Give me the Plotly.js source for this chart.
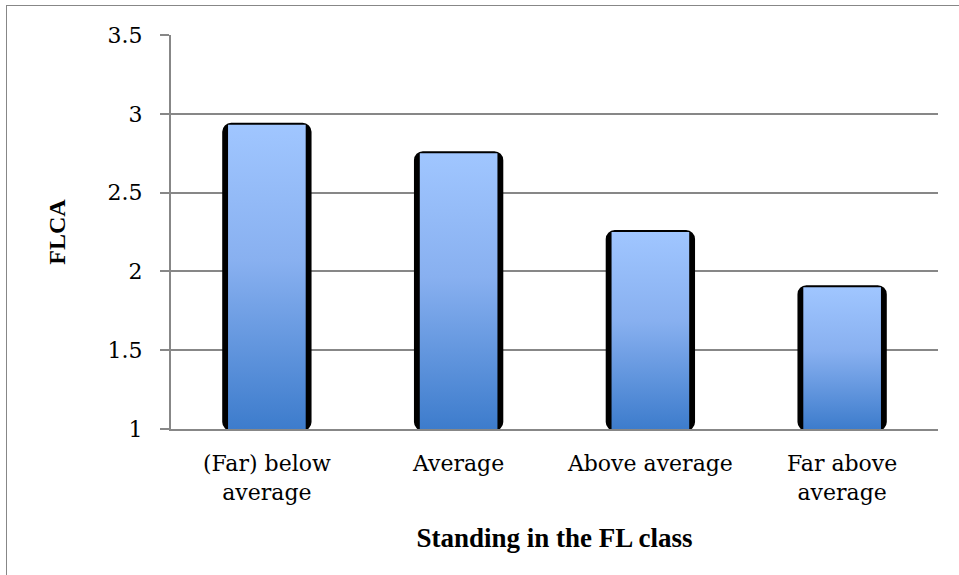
<!DOCTYPE html>
<html>
<head>
<meta charset="utf-8">
<script src="https://cdn.plot.ly/plotly-3.0.1.min.js"></script>
<style>
  html, body { margin: 0; padding: 0; background: #fff; }
  #wrap { position: relative; width: 959px; height: 575px; overflow: hidden; }
  #frame { position: absolute; left: 6px; top: 5px; width: 2000px; height: 2000px;
           border-left: 1.5px solid #878787; border-top: 1.5px solid #878787; }
  #chart { position: absolute; left: 0; top: 0; width: 959px; height: 575px; }
</style>
</head>
<body>
<div id="wrap">
  <div id="frame"></div>
  <div id="chart"></div>
</div>
<script>
// Data
var categories = ["(Far) below<br>average", "Average", "Above average", "Far above<br>average"];
var flcaValues = [2.93, 2.75, 2.25, 1.90];
var yTickVals = [1, 1.5, 2, 2.5, 3, 3.5];
var yTickText = ["1", "1.5", "2", "2.5", "3", "3.5"];
var xTitle = "Standing in the FL class";
var yTitle = "FLCA";

var tickFontFamily = "DejaVu Serif, serif";
var titleFontFamily = "Liberation Serif, Times New Roman, serif";

var shadowTrace = {
  type: "bar",
  x: categories,
  y: flcaValues.map(function (v) { return v - 1; }),
  base: 1,
  width: 0.445,
  marker: { color: "#000000", line: { color: "#000000", width: 4 }, cornerradius: 7 },
  hoverinfo: "skip",
  showlegend: false
};

var barTrace = {
  type: "bar",
  x: categories,
  y: flcaValues.map(function (v) { return v - 1; }),
  base: 1,
  width: 0.405,
  marker: { color: "#6A9EE8", line: { width: 0 } },
  hoverinfo: "skip",
  showlegend: false
};

var layout = {
  width: 959,
  height: 575,
  margin: { l: 171, r: 21, t: 35, b: 145.5 },
  paper_bgcolor: "rgba(0,0,0,0)",
  plot_bgcolor: "rgba(0,0,0,0)",
  barmode: "overlay",
  showlegend: false,
  font: { family: tickFontFamily, color: "#000" },
  xaxis: {
    type: "category",
    showgrid: false,
    showline: true,
    linecolor: "#878787",
    linewidth: 2,
    ticks: "",
    ticklabelstandoff: 14,
    tickfont: { family: tickFontFamily, size: 22, color: "#000" },
    title: { text: "<b>" + xTitle + "</b>", font: { family: titleFontFamily, size: 27, color: "#000" }, standoff: 24 },
    fixedrange: true
  },
  yaxis: {
    range: [1, 3.5],
    tickvals: yTickVals,
    ticktext: yTickText,
    showgrid: true,
    gridcolor: "#878787",
    gridwidth: 2,
    zeroline: false,
    showline: true,
    linecolor: "#878787",
    linewidth: 2,
    ticks: "outside",
    ticklen: 9,
    tickwidth: 2,
    tickcolor: "#878787",
    ticklabelstandoff: 13,
    tickfont: { family: tickFontFamily, size: 22, color: "#000" },
    title: { text: "<b>" + yTitle + "</b>", font: { family: titleFontFamily, size: 24, color: "#000" }, standoff: 35 },
    fixedrange: true
  }
};

Plotly.newPlot("chart", [shadowTrace, barTrace], layout, { displayModeBar: false, staticPlot: true }).then(function (gd) {
  var svg = gd.querySelector("svg.main-svg");
  var defs = svg.querySelector("defs");
  var ns = "http://www.w3.org/2000/svg";
  var grad = document.createElementNS(ns, "linearGradient");
  grad.setAttribute("id", "barGrad");
  grad.setAttribute("x1", "0"); grad.setAttribute("y1", "0");
  grad.setAttribute("x2", "0"); grad.setAttribute("y2", "1");
  [["0", "#A0C6FF"], ["0.45", "#88B0F0"], ["1", "#3D7CCC"]].forEach(function (s) {
    var st = document.createElementNS(ns, "stop");
    st.setAttribute("offset", s[0]);
    st.setAttribute("stop-color", s[1]);
    grad.appendChild(st);
  });
  defs.appendChild(grad);
  var traces = gd.querySelectorAll(".trace.bars");
  if (traces.length > 1) {
    traces[1].querySelectorAll("path").forEach(function (p) {
      p.style.fill = "url(#barGrad)";
      p.style.fillOpacity = "1";
    });
  }
});
</script>
</body>
</html>
